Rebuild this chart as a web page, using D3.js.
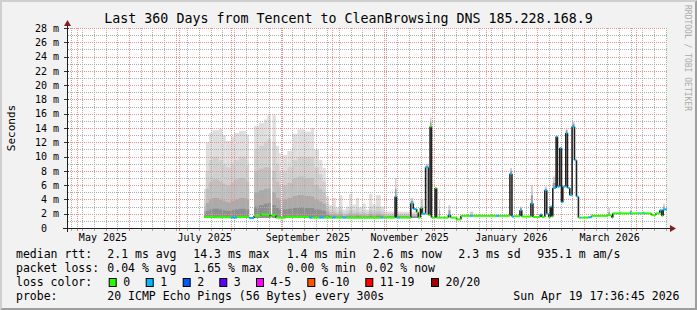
<!DOCTYPE html>
<meta charset="utf-8">
<style>
  body { margin: 0; background: #fff; }
  svg text { font-family: "DejaVu Sans Mono", monospace; fill: #000; }
</style>
<body>
<script src="https://cdn.jsdelivr.net/npm/d3@7"></script>
<script>
  // ---- data (values in ms) ----
  var titleText = "Last 360 Days from Tencent to CleanBrowsing DNS 185.228.168.9";
  var endTime = "2026-04-19 17:36:45";
  var spanDays = 360;

  var yTicks = [0, 2, 4, 6, 8, 10, 12, 14, 16, 18, 20, 22, 24, 26, 28];
  var yMinor = [1, 3, 5, 7, 9, 11, 13, 15, 17, 19, 21, 23, 25, 27];
  var xLabelMonths = ["2025-05", "2025-07", "2025-09", "2025-11", "2026-01", "2026-03"];

  // smoke (ping spread), step rows, each row lasts until the next date
  var smokeFloor = 1.4;
  var smokeDates = [
    "2025-07-16", "2025-07-17", "2025-07-19", "2025-07-21", "2025-07-25", "2025-07-27", "2025-07-29", "2025-08-01",
    "2025-08-03", "2025-08-06", "2025-08-10", "2025-08-12", "2025-08-15", "2025-08-18", "2025-08-21", "2025-08-23",
    "2025-08-25", "2025-08-26", "2025-08-28", "2025-08-30", "2025-08-31", "2025-09-01", "2025-09-04", "2025-09-07",
    "2025-09-10", "2025-09-14", "2025-09-18", "2025-09-20", "2025-09-23", "2025-09-25", "2025-09-27", "2025-09-29",
    "2025-10-01", "2025-10-03", "2025-10-05", "2025-10-07", "2025-10-09", "2025-10-11", "2025-10-13", "2025-10-15",
    "2025-10-17", "2025-10-19", "2025-10-21", "2025-10-23", "2025-10-25", "2025-10-27", "2025-10-30", "2025-11-01",
    "2025-11-21"];
  var smokeTop = [
    5.5, 12.0, 13.3, 13.7, 13.9, 13.0, 12.2, 12.8,
    13.3, 13.6, 13.1, null, 14.3, 14.7, 15.2, 15.8,
    null, 15.8, 11.5, 10.5, null, 10.2, 10.8, 13.2,
    13.8, 13.5, 14.0, 11.0, 9.5, 8.4, 4.5, 3.2,
    4.2, 2.8, 4.6, 2.6, 3.0, 4.8, 3.3, 4.2,
    2.9, 3.4, 2.6, 4.8, 3.3, 4.6, 3.0, 2.3,
    null];
  var smokeL1 = [
    4.0, 8.0, 9.5, 10.0, 9.5, 9.0, 8.5, 9.0,
    9.5, 10.0, 9.0, null, 11.0, 11.5, 12.0, 12.5,
    null, 12.0, 9.0, 8.0, null, 8.0, 8.5, 9.5,
    10.0, 10.0, 10.0, 8.5, 7.5, 6.5, 3.5, 2.6,
    2.8, 2.3, 3.0, 2.2, 2.4, 3.0, 2.5, 2.8,
    2.3, 2.5, 2.2, 3.0, 2.5, 3.0, 2.4, 2.0,
    null];
  var smokeL2 = [
    3.0, 5.5, 6.5, 6.8, 6.5, 6.2, 6.0, 6.4,
    6.8, 7.0, 6.5, null, 8.0, 8.3, 8.5, 8.5,
    null, 8.0, 6.5, 6.0, null, 6.0, 6.3, 7.0,
    7.2, 7.0, 7.0, 6.0, 5.5, 5.0, 2.8, 2.2,
    2.3, 2.0, 2.4, 1.9, 2.0, 2.4, 2.1, 2.2,
    2.0, 2.1, 1.9, 2.4, 2.1, 2.3, 2.0, 1.8,
    null];
  var smokeL3 = [
    2.4, 3.5, 4.0, 4.2, 4.0, 3.8, 3.6, 3.8,
    4.0, 4.2, 4.0, null, 5.0, 5.3, 5.5, 5.5,
    null, 5.0, 4.2, 4.0, null, 4.0, 4.2, 4.5,
    4.6, 4.5, 4.4, 4.0, 3.7, 3.4, 2.3, 1.9,
    1.9, 1.8, 2.0, 1.7, 1.8, 2.0, 1.8, 1.9,
    1.8, 1.8, 1.7, 2.0, 1.8, 1.9, 1.8, 1.7,
    null];
  var smokeL4 = [
    2.0, 2.4, 2.6, 2.7, 2.6, 2.5, 2.4, 2.5,
    2.6, 2.7, 2.6, null, 3.0, 3.2, 3.4, 3.5,
    null, 3.2, 2.8, 2.6, null, 2.6, 2.7, 2.8,
    2.9, 2.8, 2.8, 2.6, 2.5, 2.4, 1.9, 1.7,
    1.7, 1.6, 1.7, 1.6, 1.6, 1.7, 1.6, 1.7,
    1.6, 1.6, 1.6, 1.7, 1.6, 1.7, 1.6, 1.6,
    null];

  // short bursts of smoke above spikes
  var burstStart = ["2025-11-07 14", "2025-11-17 00", "2025-11-22 19", "2025-11-25 22", "2025-11-28 14", "2025-12-04 00",
    "2025-12-09 14", "2025-12-22 12", "2026-01-15 12", "2026-01-21 12", "2026-01-28 02", "2026-02-05 10",
    "2026-02-10 05", "2026-02-18 00", "2026-02-21 19", "2026-03-05 05", "2026-03-15 12", "2026-03-22 10",
    "2026-03-28 12", "2026-04-05 10", "2026-04-17 10"];
  var burstEnd = ["2025-11-08 10", "2025-11-18 12", "2025-11-24 12", "2025-11-27 14", "2025-11-29 10", "2025-12-04 14",
    "2025-12-10 19", "2025-12-24 12", "2026-01-16 17", "2026-01-22 14", "2026-01-29 07", "2026-02-06 14",
    "2026-02-12 05", "2026-02-19 00", "2026-02-23 05", "2026-03-06 12", "2026-03-16 12", "2026-03-23 10",
    "2026-03-29 12", "2026-04-06 10", "2026-04-18 10"];
  var burstBase = [4.4, 3.45, 2.0, 8.5, 14.2, 1.45, 1.85, 1.7, 7.6, 2.5, 3.45, 5.3, 5.6, 13.3, 14.2, 1.7, 1.8, 2.05, 2.05, 2.05, 2.6];
  var burstTop = [7.0, 4.2, 4.0, 9.0, 15.5, 4.0, 3.2, 2.3, 8.4, 3.0, 6.0, 5.8, 7.2, 14.0, 14.9, 1.95, 2.8, 2.4, 2.5, 2.3, 3.4];
  var burstMid = [5.5, 3.8, 3.0, 8.7, 14.8, 2.5, 2.5, null, 8.0, 2.8, 4.6, 5.5, 6.3, 13.7, 14.6, null, 2.2, null, 2.4, null, 3.0];

  // median rtt, step rows with loss class (0 = no loss, 1 = one lost)
  var medDates = [
    "2025-07-16 00", "2025-07-22 00", "2025-08-01 00", "2025-08-04 12", "2025-08-12 00", "2025-08-15 00", "2025-08-19 00", "2025-08-24 12",
    "2025-08-25 12", "2025-08-28 00", "2025-09-03 00", "2025-09-17 00", "2025-09-19 00", "2025-09-23 00", "2025-09-26 00", "2025-10-01 00",
    "2025-10-03 00", "2025-10-07 00", "2025-10-09 12", "2025-10-30 00", "2025-10-31 12", "2025-11-07 14", "2025-11-08 10", "2025-11-09 07",
    "2025-11-10 12", "2025-11-17 00", "2025-11-18 12", "2025-11-20 12", "2025-11-21 12", "2025-11-22 19", "2025-11-23 17", "2025-11-25 22",
    "2025-11-27 14", "2025-11-28 14", "2025-11-29 10", "2025-12-01 14", "2025-12-02 12", "2025-12-09 14", "2025-12-10 19", "2025-12-14 12",
    "2025-12-17 02", "2025-12-22 12", "2025-12-24 07", "2026-01-07 05", "2026-01-09 00", "2026-01-15 12", "2026-01-16 17", "2026-01-18 00",
    "2026-01-21 12", "2026-01-22 14", "2026-01-28 02", "2026-01-29 07", "2026-02-02 17", "2026-02-03 14", "2026-02-05 10", "2026-02-06 14",
    "2026-02-07 19", "2026-02-08 17", "2026-02-09 14", "2026-02-10 05", "2026-02-12 05", "2026-02-13 00", "2026-02-14 10", "2026-02-15 10",
    "2026-02-16 05", "2026-02-18 00", "2026-02-19 00", "2026-02-20 10", "2026-02-21 19", "2026-02-23 05", "2026-02-24 10", "2026-02-25 14",
    "2026-02-26 12", "2026-02-27 12", "2026-03-03 10", "2026-03-05 10", "2026-03-15 05", "2026-03-17 14", "2026-03-18 05", "2026-03-28 10",
    "2026-03-29 10", "2026-04-02 10", "2026-04-03 10", "2026-04-05 10", "2026-04-06 10", "2026-04-10 10", "2026-04-13 00", "2026-04-15 10",
    "2026-04-16 14", "2026-04-17 10"];
  var medVals = [
    1.55, 1.5, 1.45, 1.55, 1.4, 1.7, 1.9, 1.6,
    1.8, 1.45, 1.55, 1.45, 1.45, 1.45, 1.45, 1.45,
    1.45, 1.45, 1.45, 1.45, 1.45, 4.4, 1.45, 1.45,
    1.45, 3.45, 2.65, 2.2, 1.45, 2.8, 2.0, 8.5,
    1.8, 14.2, 1.45, 5.6, 1.45, 1.85, 1.45, 1.2,
    1.7, 1.7, 1.7, 1.7, 1.7, 7.6, 1.6, 1.65,
    2.5, 1.6, 3.45, 1.55, 1.9, 1.55, 5.3, 2.0,
    1.5, 3.0, 1.6, 5.6, 12.8, 5.8, 11.2, 3.6,
    5.8, 13.3, 5.6, 4.6, 14.2, 9.5, 4.4, 1.45,
    1.45, 1.45, 1.5, 1.7, 1.8, 1.45, 2.05, 2.05,
    2.05, 2.05, 2.05, 2.05, 2.05, 1.8, 2.05, 2.5,
    1.7, 2.6];
  var medLoss = [
    0, 0, 1, 0, 1, 0, 0, 0,
    0, 0, 0, 1, 0, 1, 0, 1,
    0, 1, 0, 1, 0, 1, 0, 1,
    0, 1, 1, 0, 0, 0, 1, 1,
    0, 0, 0, 0, 0, 1, 0, 0,
    0, 1, 0, 1, 0, 1, 1, 0,
    1, 0, 1, 0, 1, 0, 1, 1,
    0, 1, 0, 1, 1, 1, 1, 1,
    1, 1, 1, 1, 1, 1, 1, 0,
    1, 0, 1, 0, 0, 0, 0, 1,
    0, 1, 0, 1, 0, 0, 0, 1,
    0, 1];

  var lossLabels = ["0", "1", "2", "3", "4-5", "6-10", "11-19", "20/20"];
  var lossColors = ["#26ff00", "#00b8ff", "#0059ff", "#5e00ff", "#ff00ff", "#ff5500", "#ff0000", "#a10000"];

  var statRtt = ["2.1 ms avg", "14.3 ms max", "1.4 ms min", "2.6 ms now", "2.3 ms sd", "935.1 m am/s"];
  var statLoss = ["0.04 % avg", "1.65 % max", "0.00 % min", "0.02 % now"];
  var probeText = "20 ICMP Echo Pings (56 Bytes) every 300s";
  var stampText = "Sun Apr 19 17:36:45 2026";

  // ---- layout ----
  var W = 697, H = 310;
  var margin = {top: 28, right: 30, bottom: 82, left: 67};
  var pw = W - margin.left - margin.right, ph = H - margin.top - margin.bottom;

  var parseH = d3.utcParse("%Y-%m-%d %H");
  var parseD = d3.utcParse("%Y-%m-%d");
  var parseM = d3.utcParse("%Y-%m");
  var tEnd = d3.utcParse("%Y-%m-%d %H:%M:%S")(endTime);
  var tStart = d3.utcDay.offset(tEnd, -spanDays);

  var x = d3.scaleUtc().domain([tStart, tEnd]).range([margin.left, margin.left + pw]);
  var y = d3.scaleLinear().domain([0, 28]).range([margin.top + ph, margin.top]);

  var svg = d3.select("body").append("svg").attr("width", W).attr("height", H);

  // dotted grid patterns (one pixel on, one off)
  var defs = svg.append("defs");
  function dotPattern(id, w, h, color) {
    defs.append("pattern").attr("id", id).attr("patternUnits", "userSpaceOnUse")
      .attr("width", w).attr("height", h)
      .append("rect").attr("width", 1).attr("height", 1).attr("fill", color);
  }
  dotPattern("minH", 2, 1, "#adadad");
  dotPattern("minV", 1, 2, "#adadad");
  dotPattern("majH", 2, 1, "#ea9090");
  dotPattern("majV", 1, 2, "#ea9090");

  // background with 3d frame
  svg.append("rect").attr("width", W).attr("height", H).attr("fill", "#f2f2f2");
  svg.append("path").attr("d", "M0,0H" + W + "L" + (W - 2) + ",2H2V" + (H - 2) + "L0," + H + "Z").attr("fill", "#cfcfcf");
  svg.append("path").attr("d", "M" + W + ",0V" + H + "H0L2," + (H - 2) + "H" + (W - 2) + "V2Z").attr("fill", "#9e9e9e");

  svg.append("rect")
    .attr("x", margin.left).attr("y", margin.top)
    .attr("width", pw).attr("height", ph)
    .attr("fill", "#fff");

  var plot = svg.append("g");

  // smoke
  var smokeShades = ["#dedede", "#d0d0d0", "#c0c0c0", "#aaaaaa", "#8e8e8e"];
  var smokeLayers = [smokeTop, smokeL1, smokeL2, smokeL3, smokeL4];
  smokeLayers.forEach(function (layer, k) {
    var rows = [];
    for (var i = 0; i < smokeDates.length - 1; i++) {
      if (layer[i] != null && layer[i] > smokeFloor) {
        rows.push({t0: parseD(smokeDates[i]), t1: parseD(smokeDates[i + 1]), v: layer[i]});
      }
    }
    plot.append("g").attr("fill", smokeShades[k])
      .selectAll("rect").data(rows).enter().append("rect")
      .attr("x", function (d) { return x(d.t0); })
      .attr("width", function (d) { return x(d.t1) - x(d.t0); })
      .attr("y", function (d) { return y(d.v); })
      .attr("height", function (d) { return y(smokeFloor) - y(d.v); });
  });

  var bursts = burstStart.map(function (s, i) {
    return {t0: parseH(s), t1: parseH(burstEnd[i]), base: burstBase[i], top: burstTop[i], mid: burstMid[i]};
  });
  plot.append("g").attr("fill", "#d0d0d0")
    .selectAll("rect").data(bursts).enter().append("rect")
    .attr("x", function (d) { return x(d.t0); })
    .attr("width", function (d) { return x(d.t1) - x(d.t0); })
    .attr("y", function (d) { return y(d.top); })
    .attr("height", function (d) { return y(d.base) - y(d.top); });
  plot.append("g").attr("fill", "#9c9c9c")
    .selectAll("rect").data(bursts.filter(function (d) { return d.mid != null; })).enter().append("rect")
    .attr("x", function (d) { return x(d.t0); })
    .attr("width", function (d) { return x(d.t1) - x(d.t0); })
    .attr("y", function (d) { return y(d.mid); })
    .attr("height", function (d) { return y(d.base) - y(d.mid); });

  // grid
  var months = d3.utcMonth.range(tStart, tEnd);
  var weeks = d3.utcSunday.range(tStart, tEnd).filter(function (w) {
    return w.getUTCDate() !== 1;
  });
  var grid = svg.append("g").attr("shape-rendering", "crispEdges");
  function hLines(vals, pat) {
    grid.append("g").selectAll("rect").data(vals).enter().append("rect")
      .attr("x", margin.left).attr("width", pw)
      .attr("y", function (d) { return Math.round(y(d)); }).attr("height", 1)
      .attr("fill", "url(#" + pat + ")");
  }
  function vLines(dates, pat) {
    grid.append("g").selectAll("rect").data(dates).enter().append("rect")
      .attr("x", function (d) { return Math.round(x(d)); }).attr("width", 1)
      .attr("y", margin.top).attr("height", ph)
      .attr("fill", "url(#" + pat + ")");
  }
  hLines(yMinor, "minH");
  vLines(weeks, "minV");
  hLines(yTicks.slice(1), "majH");
  vLines(months, "majV");

  // median line
  var med = medDates.map(function (d, i) {
    return {t: parseH(d), v: medVals[i], loss: medLoss[i]};
  });
  med.forEach(function (m, i) { m.t1 = i < med.length - 1 ? med[i + 1].t : tEnd; });

  plot = svg.append("g");
  plot.selectAll(".jump").data(med.slice(1)).enter().append("line")
    .attr("x1", function (d) { return x(d.t); })
    .attr("x2", function (d) { return x(d.t); })
    .attr("y1", function (d, i) { return y(med[i].v); })
    .attr("y2", function (d) { return y(d.v); })
    .attr("stroke", "#222").attr("stroke-width", 1.6);
  plot.selectAll(".step").data(med).enter().append("line")
    .attr("x1", function (d) { return x(d.t); })
    .attr("x2", function (d) { return x(d.t1); })
    .attr("y1", function (d) { return y(d.v); })
    .attr("y2", function (d) { return y(d.v); })
    .attr("stroke", function (d) { return lossColors[d.loss]; })
    .attr("stroke-width", 2);

  // axes
  var yAxis = d3.axisLeft(y).tickValues(yTicks).tickSize(0).tickPadding(8)
    .tickFormat(function (d) { return d ? d + " m" : "0\u00a0\u00a0"; });
  var gy = svg.append("g").attr("transform", "translate(" + margin.left + ",0)").call(yAxis);
  gy.select(".domain").remove();
  gy.selectAll("text").attr("font-size", 10).attr("font-family", "DejaVu Sans Mono");

  var labelDates = xLabelMonths.map(function (m) { return d3.utcDay.offset(parseM(m), 15); });
  var xAxis = d3.axisBottom(x).tickValues(labelDates).tickSize(0).tickPadding(6)
    .tickFormat(d3.utcFormat("%B %Y"));
  var gx = svg.append("g").attr("transform", "translate(0," + (margin.top + ph) + ")").call(xAxis);
  gx.select(".domain").remove();
  gx.selectAll("text").attr("font-size", 10).attr("font-family", "DejaVu Sans Mono");

  var y0 = margin.top + ph;
  var tk = svg.append("g").attr("shape-rendering", "crispEdges");
  tk.selectAll(".tw").data(weeks).enter().append("rect")
    .attr("x", function (d) { return Math.round(x(d)); }).attr("width", 1)
    .attr("y", y0).attr("height", 3).attr("fill", "#aaa");
  tk.selectAll(".tm").data(months).enter().append("rect")
    .attr("x", function (d) { return Math.round(x(d)); }).attr("width", 1)
    .attr("y", y0).attr("height", 3).attr("fill", "#e07070");
  tk.selectAll(".ty").data(yTicks).enter().append("rect")
    .attr("x", margin.left - 3).attr("width", 5)
    .attr("y", function (d) { return Math.round(y(d)); }).attr("height", 1)
    .attr("fill", "#333");

  tk.append("rect").attr("x", margin.left - 4).attr("y", y0).attr("width", pw + 8).attr("height", 1).attr("fill", "#1f1f1f");
  tk.append("rect").attr("x", margin.left).attr("y", margin.top - 4).attr("width", 1).attr("height", ph + 8).attr("fill", "#1f1f1f");
  svg.append("path")
    .attr("d", "M" + (margin.left + pw + 3) + "," + (y0 - 3) + "L" + (margin.left + pw + 9) + "," + (y0 + 0.5) + "L" + (margin.left + pw + 3) + "," + (y0 + 4) + "Z")
    .attr("fill", "#801f1f");
  svg.append("path")
    .attr("d", "M" + (margin.left - 3) + "," + (margin.top - 2) + "L" + (margin.left + 0.5) + "," + (margin.top - 8) + "L" + (margin.left + 4) + "," + (margin.top - 2) + "Z")
    .attr("fill", "#801f1f");

  // title and side texts
  svg.append("text").attr("x", W / 2).attr("y", 23).attr("text-anchor", "middle")
    .attr("font-size", 13.3).text(titleText);
  svg.append("text").attr("transform", "translate(15," + (margin.top + ph / 2) + ") rotate(-90)")
    .attr("text-anchor", "middle").attr("font-size", 11).text("Seconds");
  svg.append("text").attr("transform", "translate(685,5) rotate(90)")
    .attr("font-size", 8).style("fill", "#aaa").text("RRDTOOL / TOBI OETIKER");

  // legend
  var leg = svg.append("g").attr("font-size", 11.5);
  var col = [107.3, 193.3, 286.7, 372.7, 458.3, 537.3];
  leg.append("text").attr("x", 16).attr("y", 258).text("median rtt:");
  statRtt.forEach(function (s, i) { leg.append("text").attr("x", col[i]).attr("y", 258).text(s); });
  leg.append("text").attr("x", 16).attr("y", 272).text("packet loss:");
  var colL = [107.3, 193.3, 286.7, 365.7];
  statLoss.forEach(function (s, i) { leg.append("text").attr("x", colL[i]).attr("y", 272).text(s); });
  leg.append("text").attr("x", 16).attr("y", 286).text("loss color:");
  var boxX = [108.7, 145.7, 182.7, 219.3, 256, 307.3, 365.3, 431];
  lossLabels.forEach(function (l, i) {
    leg.append("rect").attr("x", boxX[i] + 0.5).attr("y", 278.5).attr("width", 7).attr("height", 8)
      .attr("fill", lossColors[i]).attr("stroke", "#000").attr("stroke-width", 1);
    leg.append("text").attr("x", boxX[i] + 14.5).attr("y", 286).text(l);
  });
  leg.append("text").attr("x", 16).attr("y", 300).text("probe:");
  leg.append("text").attr("x", 107.3).attr("y", 300).text(probeText);
  leg.append("text").attr("x", 513.3).attr("y", 300).text(stampText);
</script>
